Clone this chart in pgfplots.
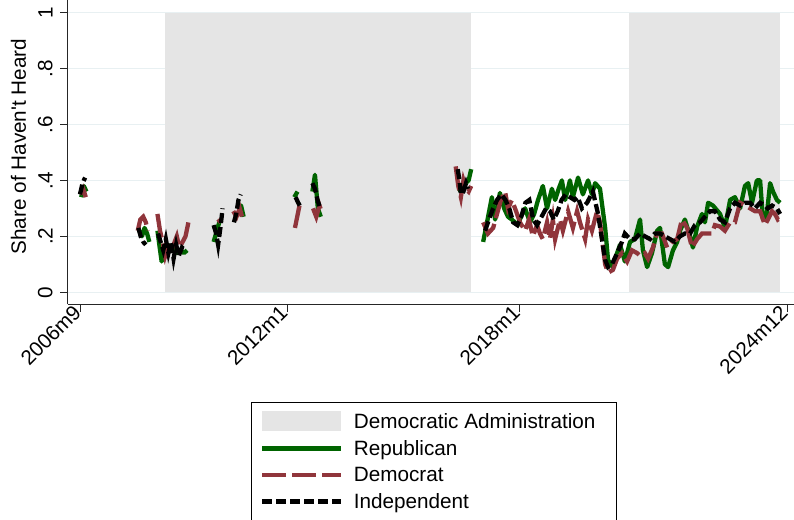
\documentclass[border=0pt]{standalone}
\usepackage{fontspec}
\setmainfont{Liberation Sans}
\usepackage{pgfplots}
\pgfplotsset{compat=1.18}
\definecolor{rep}{RGB}{0,100,0}
\definecolor{dem}{RGB}{144,53,59}
\definecolor{shadec}{RGB}{229,229,229}
\definecolor{gridc}{RGB}{232,240,242}
\newcommand{\fs}{\fontsize{20.7pt}{24pt}\selectfont}
\begin{document}
\begin{tikzpicture}
\begin{axis}[
  name=ax, scale only axis, width=726.3pt, height=304pt,
  xmin=-4, xmax=221, ymin=-0.042, ymax=1.045,
  axis lines*=left,
  axis line style={line width=0.8pt, black!85},
  xtick={0,64,136,219}, xticklabels={2006m9,2012m1,2018m1,2024m12},
  ytick={0,0.2,0.4,0.6,0.8,1}, yticklabels={0,.2,.4,.6,.8,1},
  tick align=outside, major tick length=7.5pt,
  tick style={line width=0.8pt, black!85},
  /pgf/number format/assume math mode=true,
  xticklabel style={xshift=-1pt, yshift=5pt, rotate=45, anchor=east, font=\fs},
  yticklabel style={rotate=90, anchor=south, font=\fs},
  yticklabel shift=4pt,
  ymajorgrids, grid style={line width=0.9pt, gridc},
  ylabel={Share of Haven\textquotesingle t Heard},
  ylabel style={font=\fs, at={(axis description cs:-0.0677,0.518)}, anchor=center},
  unbounded coords=jump,
  legend style={at={(axis description cs:0.5046,-0.3214)}, anchor=north,
    draw=black, line width=0.8pt, font=\fs, inner xsep=8pt, inner ysep=9pt,
    row sep=6.5pt, /tikz/every odd column/.append style={column sep=8.7pt}},
  legend cell align=left,
  legend image code/.code={\draw[#1] (0pt,0pt) -- (79pt,0pt);},
]
% shaded Democratic administrations
\addplot[fill=shadec, draw=none,
  legend image code/.code={\fill[shadec] (0pt,-10pt) rectangle (79pt,10pt);}]
  coordinates {(26.1,0) (26.1,1) (120.8,1) (120.8,0)} -- cycle;
\addlegendentry{Democratic Administration\rule{11pt}{0pt}}
\addplot[fill=shadec, draw=none, forget plot]
  coordinates {(169.9,0) (169.9,1) (216.7,1) (216.7,0)} -- cycle;

% Republican
\addplot[rep, line width=4.3pt, line join=round] coordinates {
(0.2,0.34) (1.0,0.38) (1.8,0.36) (2,nan)
(18.2,0.22) (19.0,0.20) (19.8,0.23) (20.6,0.21) (21.3,0.18) (22,nan)
(23.8,0.22) (24.5,0.16) (25.1,0.11) (26.0,0.15) (27.0,0.17) (28.0,0.15) (29.0,0.16) (30.0,0.14) (31.0,0.15) (32.0,0.14) (33.0,0.15) (34,nan)
(41.2,0.18) (42.2,0.22) (43.2,0.26) (45,nan)
(48.7,0.30) (49.7,0.31) (50.5,0.27) (52,nan)
(66.2,0.34) (67.2,0.36) (68,nan)
(71.8,0.36) (72.6,0.42) (73.5,0.30) (74.4,0.27) (76,nan)
(117.0,0.36) (118.2,0.37) (119.2,0.39) (120.2,0.40) (121.0,0.44) (122,nan)
(124.7,0.18) (125.9,0.25) (127.4,0.34) (128.4,0.26) (129.9,0.355) (131.2,0.30) (132.4,0.27) (133.6,0.26) (135.5,0.24) (136.4,0.27) (137.7,0.30) (139.2,0.25) (140.5,0.28) (141.7,0.33) (143.2,0.38) (144.5,0.30) (146.0,0.37) (147.0,0.33) (148.1,0.37) (149.1,0.40) (150.1,0.33) (151.6,0.40) (152.5,0.34) (154.1,0.41) (155.6,0.35) (157.2,0.40) (158.4,0.35) (159.4,0.39) (160.9,0.37) (162.5,0.23) (163.4,0.115) (164.9,0.09) (166.2,0.14) (167.1,0.17) (168.6,0.11) (170.2,0.18) (171.7,0.19) (173.3,0.26) (174.2,0.15) (175.5,0.09) (177.0,0.14) (178.6,0.22) (179.5,0.23) (181.0,0.10) (182.0,0.09) (183.5,0.15) (184.8,0.18) (185.7,0.22) (187.2,0.26) (188.8,0.20) (189.7,0.16) (191.0,0.235) (192.5,0.28) (193.4,0.25) (194.4,0.32) (195.9,0.31) (198.1,0.28) (199.6,0.23) (201.2,0.33) (202.7,0.34) (204.3,0.30) (205.8,0.38) (206.8,0.39) (208.0,0.32) (209.5,0.40) (210.5,0.40) (211.4,0.26) (212.6,0.28) (213.6,0.39) (214.5,0.36) (215.7,0.33) (216.7,0.32)
};
\addlegendentry{Republican}

% Democrat
\addplot[dem, line width=4.3pt, dash pattern=on 24pt off 6pt] coordinates {
(-0.2,0.35) (0.8,0.37) (1.6,0.34) (2,nan)
(17.7,0.22) (18.5,0.26) (19.4,0.27) (20.2,0.25) (20.8,0.22) (22,nan)
(23.8,0.28) (24.6,0.22) (25.4,0.18) (26.2,0.13) (27.0,0.16) (27.8,0.14) (28.8,0.17) (29.8,0.20) (30.6,0.16) (31.6,0.18) (32.5,0.20) (33.4,0.25) (34,nan)
(42.5,0.25) (43.5,0.26) (45,nan)
(47.3,0.29) (48.3,0.27) (49.3,0.30) (50.0,0.27) (52,nan)
(66.4,0.23) (67.8,0.31) (69,nan)
(72.0,0.30) (73.0,0.27) (74.0,0.31) (74.6,0.29) (76,nan)
(116.2,0.45) (117.0,0.38) (117.8,0.34) (118.6,0.40) (119.4,0.37) (120.2,0.36) (121.0,0.38) (122,nan)
(124.7,0.25) (126.2,0.21) (127.8,0.23) (129.0,0.28) (130.2,0.33) (131.5,0.36) (132.4,0.30) (133.6,0.33) (134.9,0.29) (136.1,0.25) (137.7,0.22) (138.9,0.26) (140.1,0.20) (141.4,0.24) (142.3,0.21) (143.2,0.19) (144.5,0.25) (145.4,0.19) (146.3,0.26) (147.0,0.19) (148.5,0.26) (149.4,0.22) (151.0,0.29) (152.5,0.23) (153.8,0.29) (154.7,0.25) (156.3,0.19) (157.2,0.26) (158.4,0.22) (160.0,0.29) (160.9,0.25) (162.5,0.10) (163.4,0.07) (164.9,0.08) (166.2,0.12) (167.7,0.14) (169.3,0.11) (170.8,0.15) (172.4,0.14) (173.3,0.13) (174.8,0.14) (175.8,0.12) (177.3,0.16) (178.6,0.21) (180.1,0.21) (181.7,0.16) (183.2,0.18) (184.8,0.19) (186.3,0.26) (187.9,0.23) (189.4,0.16) (191.0,0.19) (192.5,0.21) (194.1,0.21) (195.6,0.21) (196.5,0.24) (198.1,0.235) (199.6,0.22) (201.2,0.25) (202.7,0.25) (204.3,0.32) (205.8,0.31) (207.4,0.30) (208.9,0.29) (210.5,0.29) (212.0,0.24) (212.9,0.26) (214.2,0.29) (215.1,0.28) (216.0,0.26) (217.3,0.27)
};
\addlegendentry{Democrat}

% Independent
\addplot[black, line width=4.3pt, dash pattern=on 10pt off 4pt] coordinates {
(-0.2,0.35) (0.6,0.39) (1.4,0.41) (2,nan)
(17.9,0.23) (18.6,0.20) (19.4,0.18) (20.2,0.17) (22,nan)
(24.0,0.21) (24.8,0.18) (25.6,0.15) (26.4,0.19) (27.2,0.14) (28.0,0.18) (28.8,0.12) (29.6,0.17) (30.4,0.13) (31.4,0.16) (32.4,0.15) (34,nan)
(41.2,0.24) (42.0,0.21) (42.6,0.17) (43.3,0.23) (44.0,0.30) (45,nan)
(47.5,0.25) (48.2,0.28) (48.9,0.33) (49.6,0.35) (52,nan)
(66.6,0.34) (67.4,0.32) (67.9,0.31) (69,nan)
(71.8,0.39) (72.6,0.37) (73.4,0.33) (74.2,0.30) (76,nan)
(116.8,0.44) (117.4,0.40) (117.8,0.35) (118.6,0.36) (119.4,0.39) (120.0,0.37) (122,nan)
(125.3,0.22) (126.5,0.26) (127.8,0.30) (129.0,0.33) (130.3,0.35) (131.6,0.33) (132.8,0.30) (134.0,0.25) (135.3,0.24) (136.5,0.27) (137.8,0.32) (139.0,0.33) (140.2,0.26) (141.4,0.24) (142.8,0.27) (144.2,0.30) (145.4,0.29) (146.6,0.26) (147.8,0.29) (149.0,0.33) (150.3,0.35) (151.6,0.34) (153.0,0.33) (154.0,0.34) (155.3,0.30) (156.9,0.32) (158.7,0.36) (160.3,0.28) (161.5,0.19) (162.5,0.115) (163.4,0.09) (164.6,0.10) (166.2,0.14) (167.7,0.18) (168.6,0.21) (170.2,0.19) (171.7,0.19) (173.3,0.21) (174.8,0.20) (176.4,0.19) (177.9,0.21) (179.5,0.21) (181.0,0.20) (182.6,0.19) (184.1,0.18) (185.7,0.20) (187.2,0.21) (188.8,0.21) (190.3,0.24) (191.9,0.25) (193.4,0.27) (195.0,0.29) (196.5,0.29) (198.1,0.26) (199.6,0.25) (201.2,0.30) (202.7,0.32) (204.3,0.31) (205.8,0.32) (207.4,0.32) (208.9,0.30) (210.5,0.32) (212.0,0.31) (212.9,0.30) (214.2,0.31) (215.7,0.30) (216.7,0.28)
};
\addlegendentry{Independent}
\end{axis}
\pgfresetboundingbox
\path[use as bounding box] ([xshift=-67.7pt,yshift=-216pt]ax.south west) rectangle (ax.north east);
\end{tikzpicture}
\end{document}
